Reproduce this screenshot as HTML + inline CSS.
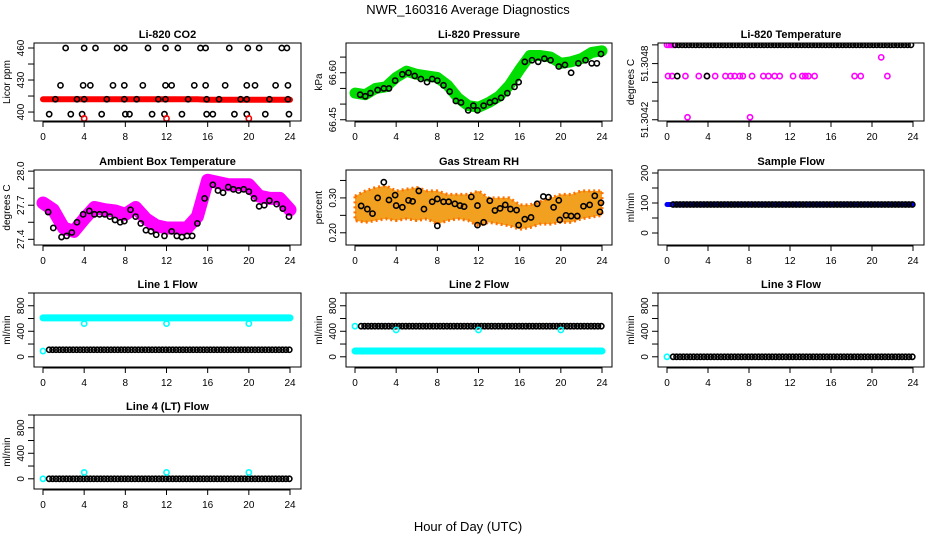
<!DOCTYPE html>
<html><head><meta charset="utf-8"><style>
html,body{margin:0;padding:0;background:#fff;}
svg{display:block;font-family:"Liberation Sans",Arial,sans-serif;}
</style></head><body>
<svg id="chart" width="936" height="540" viewBox="0 0 936 540">
<text x="468" y="14" text-anchor="middle" font-size="13">NWR_160316  Average Diagnostics</text>
<text x="468" y="531" text-anchor="middle" font-size="13">Hour of Day (UTC)</text>
</svg>
<script>
// ---- data ----
var xTicks = [0,4,8,12,16,20,24];
var co2Band = [412,412,412,412,412,412,412,412,412,412,412,412,412,412,412,412,411.5,411.5,411.5,411.5,411.5,411.5,411.5,411.5,411.5];
var co2Hi = [2.2,4.0,5.1,7.2,7.9,10.2,11.9,13.1,15.3,15.8,18.1,19.9,21.0,23.2,23.7];
var co2Mid = [1.7,3.9,4.6,6.8,7.9,9.7,11.9,12.5,14.7,15.8,17.7,19.8,20.6,22.6,23.8];
var co2Base = [1.2,3.3,4.0,6.2,7.9,9.1,11.2,11.9,14.1,15.9,17.1,19.2,19.8,22.0,23.8];
var co2Lo = [0.6,2.7,3.8,5.7,8.0,8.4,10.6,11.8,13.5,15.9,16.5,18.6,19.8,21.6,23.9];
var co2Red = [4,12,20];
var presBand = [66.535,66.53,66.55,66.555,66.585,66.605,66.595,66.59,66.585,66.56,66.52,66.495,66.49,66.505,66.525,66.56,66.61,66.655,66.655,66.65,66.63,66.635,66.645,66.665,66.67];
var presPtsX = [0.5,1,1.5,2.2,2.8,3.3,3.9,4.6,5.2,5.8,6.4,7,7.5,8,8.6,9.2,9.8,10.3,11,11.5,11.9,12.5,13.1,13.6,14.2,14.8,15.5,15.9,16.5,17.2,17.8,18.4,19,19.8,20.4,21,21.7,22.4,23,23.5,23.9];
var presPtsY = [66.53,66.525,66.535,66.545,66.55,66.55,66.575,66.595,66.6,66.59,66.58,66.57,66.58,66.575,66.56,66.54,66.51,66.505,66.48,66.495,66.48,66.495,66.505,66.51,66.52,66.535,66.555,66.57,66.635,66.64,66.635,66.645,66.64,66.62,66.625,66.6,66.63,66.64,66.63,66.63,66.66];
var tempTop = 51.3048;
var tempMidX = [0.1,0.5,1.0,1.8,3.1,3.9,4.7,5.7,6.2,6.6,7.1,7.4,8.3,9.4,9.9,10.5,11.0,12.3,13.2,13.5,13.8,14.4,18.3,18.9,21.5];
var tempMid = 51.30455;
var tempLowX = [2.0,8.1];
var tempLow = 51.30422;
var tempOdd = [[20.9,51.3047]];
var ambBand = [27.72,27.66,27.5,27.47,27.58,27.68,27.66,27.65,27.62,27.68,27.58,27.52,27.5,27.5,27.5,27.6,27.92,27.9,27.88,27.88,27.88,27.78,27.76,27.76,27.66];
var ambPtsX = [0.5,1,1.8,2.3,2.8,3.3,3.9,4.5,5,5.5,6,6.5,7,7.5,7.9,8.5,9,9.5,10,10.5,11,11.8,12.5,13,13.5,14,14.5,15,15.7,16.5,17,17.5,18,18.5,19,19.5,20,20.5,21,21.5,22,22.7,23.3,23.9];
var ambPtsY = [27.64,27.5,27.42,27.43,27.46,27.55,27.62,27.65,27.62,27.62,27.62,27.6,27.57,27.55,27.56,27.66,27.6,27.54,27.48,27.47,27.44,27.43,27.47,27.43,27.42,27.43,27.43,27.54,27.76,27.88,27.83,27.81,27.86,27.84,27.83,27.84,27.82,27.76,27.69,27.7,27.74,27.71,27.67,27.6];
var rhUpper = [0.305,0.32,0.33,0.335,0.32,0.325,0.33,0.32,0.32,0.31,0.31,0.31,0.32,0.3,0.3,0.3,0.28,0.28,0.29,0.3,0.31,0.31,0.32,0.32,0.32];
var rhLower = [0.235,0.23,0.235,0.24,0.235,0.24,0.235,0.24,0.225,0.235,0.24,0.235,0.22,0.23,0.225,0.22,0.21,0.215,0.225,0.225,0.23,0.23,0.24,0.245,0.25];
var rhPtsX = [0.6,1.2,1.7,2.2,2.8,3.3,3.9,4.0,4.6,5.2,5.6,6.2,6.7,7.5,8.0,8.0,8.6,9.1,9.7,10.2,10.6,11.3,11.9,11.9,12.5,13.1,13.6,14.1,14.6,15.1,15.7,15.9,16.5,17.1,17.7,18.3,18.8,19.3,19.8,19.9,20.5,21.0,21.6,22.2,22.8,23.3,23.8,23.9];
var rhPtsY = [0.277,0.268,0.255,0.3,0.345,0.294,0.308,0.278,0.273,0.293,0.29,0.32,0.268,0.289,0.297,0.22,0.289,0.289,0.283,0.278,0.275,0.303,0.278,0.222,0.23,0.292,0.264,0.27,0.28,0.268,0.265,0.222,0.239,0.244,0.283,0.304,0.302,0.273,0.293,0.237,0.25,0.248,0.248,0.276,0.28,0.306,0.26,0.286];
var sampleFlow = [95];
var l1Cyan = [610];
var l1Black = [110];
var l1Dips = [4,12,20];
var l1DipVal = 520;
var l2Black = [480];
var l2Cyan = [90];
var l2DipVal = 420;
var l3Val = [0];
var l4Val = [0];
var l4Spike = 100;

// ---- drawing ----
var svg = document.getElementById('chart');
var NS = 'http://www.w3.org/2000/svg';
function mk(tag, attrs, parent){
  var e = document.createElementNS(NS, tag);
  for (var k in attrs) e.setAttribute(k, attrs[k]);
  (parent||svg).appendChild(e);
  return e;
}
var cols = [[34,301,43,290],[346,612,355,602],[658,924,667,913]];
var rows = [[43,121],[170,245],[293,367],[415,489]];

function panel(ci, ri, title, ylab, ylo, yhi, ticks, labels, name){
  var c = cols[ci], r = rows[ri];
  var g = mk('g', {});
  
  
  var P = {
    g: g,
    x: function(h){ return c[2] + h/24*(c[3]-c[2]); },
    y: function(v){ return r[1] - (v-ylo)/(yhi-ylo)*(r[1]-r[0]); }
  };
  var t = mk('text', {x:(c[0]+c[1])/2, y:r[0]-5, 'text-anchor':'middle', 'font-size':11, 'font-weight':'bold'}, g);
  t.textContent = title;
  
  
  var xa = mk('g', {}, g);
  
  
  mk('line', {x1:P.x(0), x2:P.x(24), y1:r[1]+1, y2:r[1]+1, stroke:'#000'}, xa);
  xTicks.forEach(function(h){
    mk('line', {x1:P.x(h), x2:P.x(h), y1:r[1], y2:r[1]+6, stroke:'#000'}, xa);
    var tl = mk('text', {x:P.x(h), y:r[1]+19, 'text-anchor':'middle', 'font-size':10}, xa);
    tl.textContent = h;
  });
  var ya = mk('g', {}, g);
  
  
  ticks.forEach(function(v, i){
    var yy = P.y(v);
    mk('line', {x1:c[0]-6, x2:c[0], y1:yy, y2:yy, stroke:'#000'}, ya);
    if (labels[i] !== '') {
      var tl = mk('text', {x:c[0]-10, y:yy, 'text-anchor':'middle', 'font-size':10, transform:'rotate(-90 '+(c[0]-10)+' '+yy+')'}, ya);
      tl.textContent = labels[i];
    }
  });
  var yt = mk('text', {x:c[0]-24, y:(r[0]+r[1])/2, 'text-anchor':'middle', 'font-size':10, transform:'rotate(-90 '+(c[0]-24)+' '+((r[0]+r[1])/2)+')'}, g);
  yt.textContent = ylab;
  
  
  var clipId = 'clip-' + name;
  var cp = mk('clipPath', {id: clipId}, g);
  mk('rect', {x:c[0], y:r[0], width:c[1]-c[0], height:r[1]-r[0]}, cp);
  P.plot = mk('g', {'clip-path':'url(#'+clipId+')'}, g);
  var box = mk('rect', {x:c[0], y:r[0], width:c[1]-c[0], height:r[1]-r[0], fill:'none', stroke:'#000'}, g);
  
  
  return P;
}
function pt(P, h, v, color, nm){
  var e = mk('circle', {cx:P.x(h), cy:P.y(v), r:2.6, fill:'none', stroke:color, 'stroke-width':1.6}, P.plot);
  
  
}
function band(P, arr, color, w, nm){
  var d = arr.map(function(v,i){ return (i?'L':'M') + P.x(i*24/(arr.length-1 || 1)) + ' ' + P.y(v); }).join(' ');
  if (arr.length === 1) d = 'M' + P.x(0) + ' ' + P.y(arr[0]) + ' L' + P.x(24) + ' ' + P.y(arr[0]);
  var e = mk('path', {d:d, fill:'none', stroke:color, 'stroke-width':w, 'stroke-linejoin':'round', 'stroke-linecap':'round'}, P.plot);
  
  
}
function dense(P, valArr, color, start, nm){
  for (var h = start; h <= 24.01; h += 1/3) {
    pt(P, h, valArr[0], color, nm);
  }
}

var p = panel(0,0,'Li-820 CO2','Licor ppm',391.6,464.7,[400,415,430,445,460],['400','','430','','460'],'co2');
band(p, co2Band, '#ff0000', 6, 'co2-band');
co2Hi.forEach(function(h){ pt(p,h,460,'#000','co2-point'); });
co2Mid.forEach(function(h){ pt(p,h,425,'#000','co2-point'); });
co2Base.forEach(function(h){ pt(p,h,412,'#000','co2-point'); });
co2Lo.forEach(function(h){ pt(p,h,398,'#000','co2-point'); });
co2Red.forEach(function(h){ pt(p,h,394,'#ff0000','co2-outlier'); });

p = panel(1,0,'Li-820 Pressure','kPa',66.446,66.695,[66.45,66.5,66.55,66.6,66.65],['66.45','','','66.60',''],'pressure');
band(p, presBand, '#00dd00', 11, 'pressure-band');
presPtsX.forEach(function(h,i){ pt(p,h,presPtsY[i],'#000','pressure-point'); });

p = panel(2,0,'Li-820 Temperature','degrees C',51.30419,51.304815,[51.3042,51.30435,51.3045,51.30465,51.3048],['51.3042','','','51.3048',''],'li820-temp');
for (var h = 0; h < 0.8; h += 0.2) pt(p,h,tempTop,'#ff00ff','li820-temp-point');
dense(p,[tempTop],'#000',0.8,'li820-temp-point');
tempMidX.forEach(function(h,i){ pt(p,h,tempMid,(i==2)?'#000':'#ff00ff','li820-temp-point'); });
pt(p,3.9,tempMid,'#000','li820-temp-point');
tempLowX.forEach(function(h){ pt(p,h,tempLow,'#ff00ff','li820-temp-point'); });
tempOdd.forEach(function(a){ pt(p,a[0],a[1],'#ff00ff','li820-temp-point'); });

p = panel(0,1,'Ambient Box Temperature','degrees C',27.35,28.01,[27.4,27.55,27.7,27.85,28.0],['27.4','','27.7','','28.0'],'ambient');
band(p, ambBand, '#ff00ff', 13, 'ambient-band');
ambPtsX.forEach(function(h,i){ pt(p,h,ambPtsY[i],'#000','ambient-point'); });

p = panel(1,1,'Gas Stream RH','percent',0.165,0.38,[0.2,0.25,0.3,0.35],['0.20','','0.30',''],'rh');
(function(){
  var d = rhUpper.map(function(v,i){ return (i?'L':'M') + p.x(i) + ' ' + p.y(v); }).join(' ');
  for (var i = rhLower.length-1; i >= 0; i--) d += ' L' + p.x(i) + ' ' + p.y(rhLower[i]);
  var e = mk('path', {d:d+' Z', fill:'#f2a020', stroke:'#ff7000', 'stroke-width':3, 'stroke-dasharray':'2 3', 'stroke-linejoin':'round'}, p.plot);
  
  
})();
rhPtsX.forEach(function(h,i){ pt(p,h,rhPtsY[i],'#000','rh-point'); });

p = panel(2,1,'Sample Flow','ml/min',-40,210,[0,50,100,150,200],['0','','100','','200'],'sample-flow');
band(p, [sampleFlow[0]], '#0000ff', 5, 'sample-flow-band');
dense(p, sampleFlow, '#000', 0.6, 'sample-flow-point');

var fT = [0,200,400,600,800,1000], fL = ['0','','400','','800',''];
p = panel(0,2,'Line 1 Flow','ml/min',-160,1000,fT,fL,'line1-flow');
band(p, [l1Cyan[0]], '#00ffff', 7, 'line1-cyan-band');
pt(p,0,90,'#00ffff','line1-point');
dense(p, l1Black, '#000', 0.6, 'line1-point');
l1Dips.forEach(function(h){ pt(p,h,l1DipVal,'#00ffff','line1-dip'); });

p = panel(1,2,'Line 2 Flow','ml/min',-160,1000,fT,fL,'line2-flow');
band(p, [l2Cyan[0]], '#00ffff', 7, 'line2-cyan-band');
pt(p,0,l2Black[0],'#00ffff','line2-point');
dense(p, l2Black, '#000', 0.6, 'line2-point');
l1Dips.forEach(function(h){ pt(p,h,l2DipVal,'#00ffff','line2-dip'); });

p = panel(2,2,'Line 3 Flow','ml/min',-160,1000,fT,fL,'line3-flow');
pt(p,0,l3Val[0],'#00ffff','line3-point');
dense(p, l3Val, '#000', 0.6, 'line3-point');

p = panel(0,3,'Line 4 (LT) Flow','ml/min',-160,1000,fT,fL,'line4-flow');
pt(p,0,l4Val[0],'#00ffff','line4-point');
dense(p, l4Val, '#000', 0.6, 'line4-point');
l1Dips.forEach(function(h){ pt(p,h,l4Spike,'#00ffff','line4-spike'); });
</script>
</body></html>
